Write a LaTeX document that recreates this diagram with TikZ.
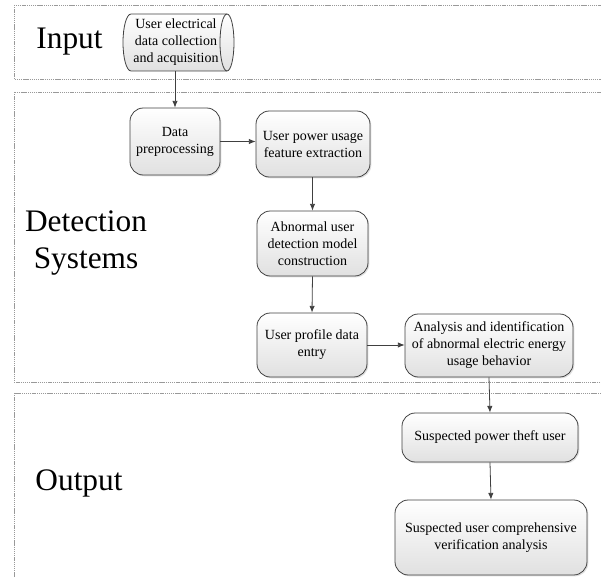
\documentclass[tikz,border=0pt]{standalone}
\usepackage{fontspec}
\setmainfont{Liberation Serif}
\usetikzlibrary{arrows.meta,shadows}

\tikzset{every picture/.style={line width=0.75pt}}
\tikzset{
  lane/.style={draw=gray!80, line width=0.6pt, dash pattern=on 1pt off 0.6pt},
  lanetitle/.style={align=center, font=\fontsize{23.5}{27.75}\selectfont},
  boxtext/.style={align=center, inner sep=2pt, font=\fontsize{10.5}{12.75}\selectfont},
  procbox/.style={boxtext, draw=black!75, line width=0.6pt, rounded corners=10pt,
    top color=white, bottom color=black!12,
    drop shadow={shadow xshift=1pt, shadow yshift=-1pt, opacity=0.25}},
  flowline/.style={draw=black!75, line width=0.6pt, -{Latex[length=5pt,width=4pt]}}
}

\begin{document}
\begin{tikzpicture}[x=0.75pt,y=0.75pt,yscale=-1,xscale=1]
\useasboundingbox (0,0) rectangle (601,577);
\clip (0,0) rectangle (601,577);

%Lanes
\draw[lane] (14,5) rectangle (620,79);
\draw[lane] (14,92) rectangle (620,382);
\draw[lane] (14,393) rectangle (620,600);

%Lane titles
\node[lanetitle] (tin) at (69.5,42) {Input};
\node[lanetitle] (tdet) at (86,243) {Detection\\Systems};
\node[lanetitle] (tout) at (79,483) {Output};

%Flowchart: Direct Access Storage
\shade[top color=white, bottom color=black!12, draw=black!75, line width=0.6pt]
  (131,14) -- (227,14) arc[start angle=-90, end angle=90, x radius=7, y radius=28.5]
  -- (131,71) arc[start angle=90, end angle=270, x radius=8, y radius=28.5] -- cycle;
\draw[black!75, line width=0.6pt] (227,14) arc[start angle=270, end angle=90, x radius=7, y radius=28.5];
\node[boxtext, minimum width=72pt, minimum height=42.75pt] (collect) at (176,42.5) {User electrical\\data collection\\and acquisition};

%Flowchart: Process
\node[procbox, minimum width=67.5pt, minimum height=50.25pt] (prep) at (175,141.5) {Data\\preprocessing};
\node[procbox, minimum width=85.5pt, minimum height=49.5pt] (feat) at (313,144) {User power usage\\feature extraction};
\node[procbox, minimum width=83.25pt, minimum height=48.75pt] (model) at (312.5,243.5) {Abnormal user\\detection model\\construction};
\node[procbox, minimum width=82.5pt, minimum height=48pt] (entry) at (312,345) {User profile data\\entry};
\node[procbox, minimum width=126pt, minimum height=47.25pt] (analy) at (489,345.5) {Analysis and identification\\of abnormal electric energy\\usage behavior};
\node[procbox, minimum width=132pt, minimum height=36.75pt] (theft) at (490,437.5) {Suspected power theft user};
\node[procbox, minimum width=144pt, minimum height=56.25pt] (verify) at (491,537.5) {Suspected user comprehensive\\verification analysis};

%Connectors
\draw[flowline] (prep.north |- collect.south) -- (prep.north);
\draw[flowline] (prep.east) -- (feat.west |- prep.east);
\draw[flowline] (model.north |- feat.south) -- (model.north);
\draw[flowline] (model.south) -- (entry.north);
\draw[flowline] (entry.east) -- (analy.west |- entry.east);
\draw[flowline] (analy.south) -- (theft.north);
\draw[flowline] (theft.south) -- (verify.north);

\end{tikzpicture}
\end{document}
